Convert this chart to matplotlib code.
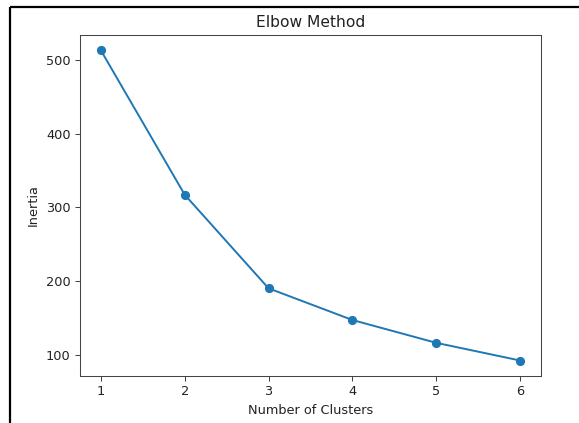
import matplotlib
matplotlib.use("Agg")
import matplotlib.pyplot as plt
from matplotlib.lines import Line2D

clusters = [1, 2, 3, 4, 5, 6]
inertia = [513, 317, 190, 147, 116, 92]

W, H = 579, 423
fig = plt.figure(figsize=(W / 100, H / 100), dpi=100)
ax = fig.add_axes([80 / W, 1 - 376 / H, (541 - 80) / W, (376 - 35) / H])

fs = 9.3
tc = '#222222'
ax.plot(clusters, inertia, marker='o', color='#1f77b4', linewidth=1.4, markersize=5.6)
ax.set_title('Elbow Method', fontsize=fs * 1.2, color=tc)
ax.set_xlabel('Number of Clusters', fontsize=fs, color=tc)
ax.set_ylabel('Inertia', fontsize=fs, color=tc)
ax.tick_params(labelsize=fs, length=3.3, width=0.75, labelcolor=tc, color='#444444')
ax.set_xticks(clusters)
for s in ax.spines.values():
    s.set_linewidth(0.75)
    s.set_color('#444444')

# screenshot frame lines (top and left)
fig.add_artist(Line2D([10 / W, 1.01], [1 - 7 / H, 1 - 7 / H], transform=fig.transFigure,
                      color='black', linewidth=1.6, solid_capstyle='butt'))
fig.add_artist(Line2D([10 / W, 10 / W], [-0.01, 1 - 7 / H], transform=fig.transFigure,
                      color='black', linewidth=1.6, solid_capstyle='butt'))

fig.savefig('out.png', dpi=100)
